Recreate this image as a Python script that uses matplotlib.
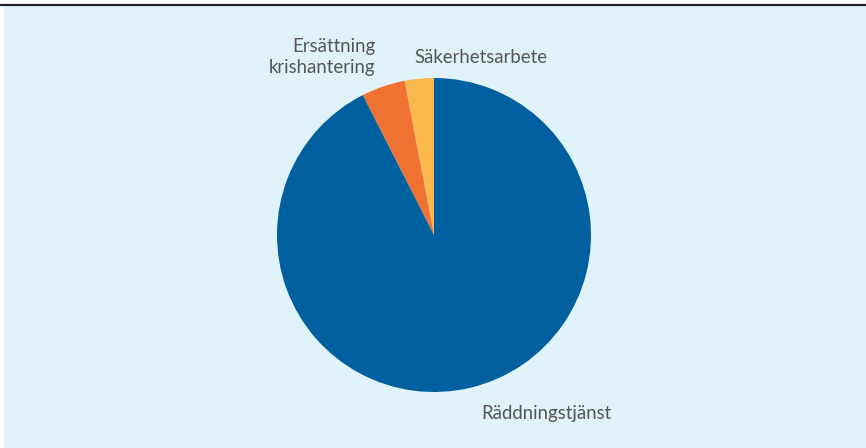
import matplotlib
matplotlib.use('Agg')
import matplotlib.pyplot as plt
from matplotlib.patches import Rectangle
from matplotlib.lines import Line2D

### data ###
labels = ['Säkerhetsarbete', 'Ersättning\nkrishantering', 'Räddningstjänst']
shares = [3.0, 4.5, 92.5]
colors = ['#fbb84d', '#f07233', '#005f9e']

W, H = 866, 448
plt.rcParams['font.family'] = ['Lato', 'DejaVu Sans']

fig = plt.figure(figsize=(W / 100, H / 100), dpi=100)
fig.patch.set_facecolor('white')

# background panel and top rule
fig.add_artist(Rectangle((4 / W, 0), 1 - 4 / W, 1 - 6 / H, transform=fig.transFigure,
                         facecolor='#e0f3fa', edgecolor='none', zorder=0))
fig.add_artist(Line2D([0, 1], [1 - 5 / H, 1 - 5 / H], transform=fig.transFigure,
                      color='#222222', lw=1.6, zorder=1))

# pie: centre (434, 235) px, radius 157 px
cx, cy, r = 434, 235, 157
ax = fig.add_axes([(cx - r) / W, (H - cy - r) / H, 2 * r / W, 2 * r / H])
ax.pie(shares, colors=colors, startangle=90, counterclock=True,
       wedgeprops=dict(linewidth=0))
ax.set_xlim(-1, 1)
ax.set_ylim(-1, 1)
ax.set_aspect('equal')
ax.axis('off')

# labels (pixel positions from top-left)
txt = dict(fontsize=13.4, color='#555555')
fig.text(414 / W, 1 - 63 / H, labels[0], ha='left', va='baseline', **txt)
fig.text(375 / W, 1 - 57 / H, labels[1], ha='right', va='center',
         multialignment='right', linespacing=1.35, **txt)
fig.text(481 / W, 1 - 419 / H, labels[2], ha='left', va='baseline', **txt)

fig.savefig('out.png', dpi=100)
